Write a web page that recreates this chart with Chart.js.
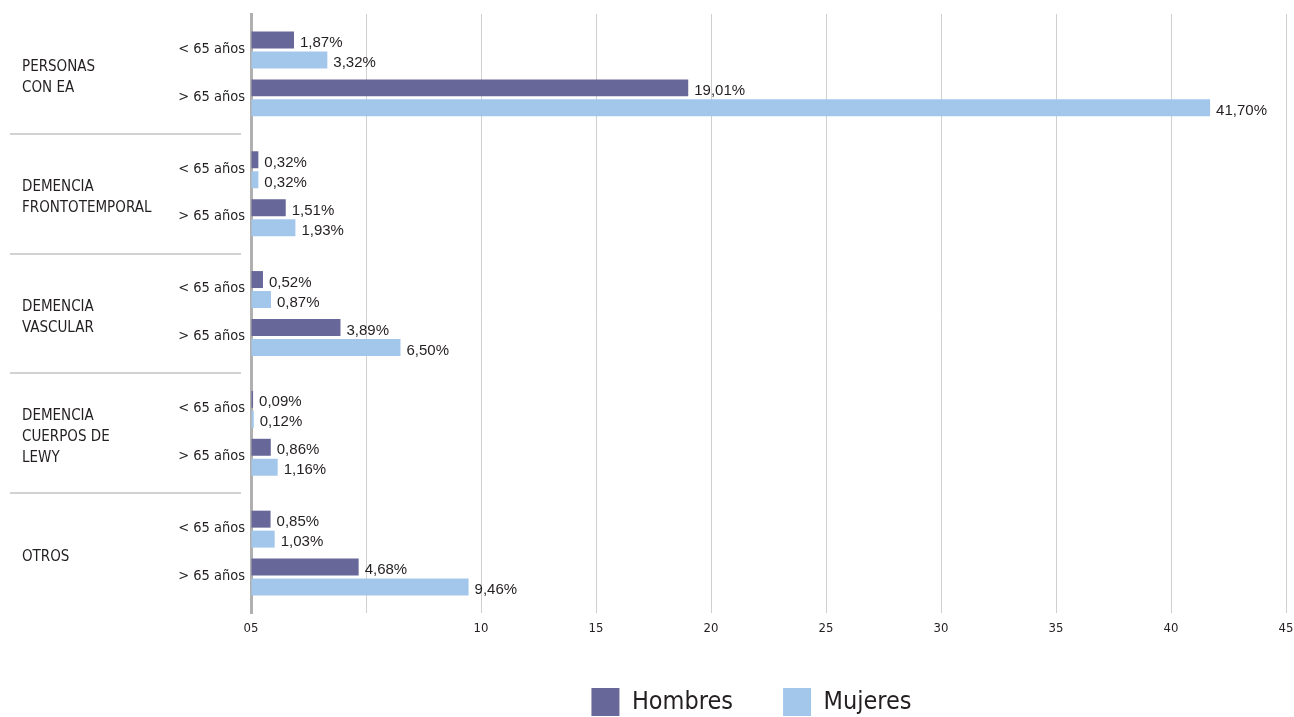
<!DOCTYPE html>
<html lang="es">
<head>
<meta charset="utf-8">
<title>Demencias por sexo y edad</title>
<script src="https://cdn.jsdelivr.net/npm/chart.js@4/dist/chart.umd.min.js"></script>
<style>
  html, body { margin: 0; padding: 0; background: #fff; }
  #wrap { width: 1294px; height: 717px; }
</style>
</head>
<body>
<div id="wrap"><canvas id="chart"></canvas></div>
<script>
const groups = [
  ['PERSONAS', 'CON EA'],
  ['DEMENCIA', 'FRONTOTEMPORAL'],
  ['DEMENCIA', 'VASCULAR'],
  ['DEMENCIA', 'CUERPOS DE', 'LEWY'],
  ['OTROS']
];
const ageBands = ['< 65 años', '> 65 años'];
const hombres = [1.87, 19.01, 0.32, 1.51, 0.52, 3.89, 0.09, 0.86, 0.85, 4.68];
const mujeres = [3.32, 41.70, 0.32, 1.93, 0.87, 6.50, 0.12, 1.16, 1.03, 9.46];
const xTickLabels = ['05', '', '10', '15', '20', '25', '30', '35', '40', '45'];

const colors = {
  hombres: '#67679a',
  mujeres: '#a3c7eb',
  grid: '#cfcfcf',
  rule: '#d2d2d2',
  axis: '#b0b0b0',
  text: '#231f20'
};
const COND = "'DejaVu Sans Condensed', 'DejaVu Sans', sans-serif";
const SANS = "'Liberation Sans', Arial, sans-serif";

// every group uses five rows of the category axis: gap, <65, gap, >65, gap
const SLOTS = 5;
const rowLabels = [];
const slotOf = [];
groups.forEach((g, gi) => {
  rowLabels.push('', ageBands[0], '', ageBands[1], '');
  slotOf.push(gi * SLOTS + 1, gi * SLOTS + 3);
});

function spread(values) {
  const out = rowLabels.map(() => null);
  values.forEach((v, i) => { out[slotOf[i]] = v; });
  return out;
}

function pct(v) {
  return v.toFixed(2).replace('.', ',') + '%';
}

// "1,87%" next to the end of each bar
const valueLabels = {
  id: 'valueLabels',
  afterDatasetsDraw(chart) {
    const { ctx } = chart;
    ctx.save();
    ctx.font = '15px ' + SANS;
    ctx.fillStyle = colors.text;
    ctx.textAlign = 'left';
    ctx.textBaseline = 'middle';
    chart.data.datasets.forEach((ds, di) => {
      chart.getDatasetMeta(di).data.forEach((bar, i) => {
        const v = ds.data[i];
        if (v == null) return;
        ctx.fillText(pct(v), bar.x + 6, bar.y + 3);
      });
    });
    ctx.restore();
  }
};

// left side: group names, age bands and the rules between groups
const rowHeaders = {
  id: 'rowHeaders',
  afterDraw(chart) {
    const { ctx } = chart;
    const y = chart.scales.y;
    const left = chart.chartArea.left;
    const lineH = 21;
    ctx.save();
    ctx.fillStyle = colors.text;
    ctx.textBaseline = 'middle';

    ctx.font = '14.5px ' + COND;
    ctx.textAlign = 'right';
    rowLabels.forEach((t, i) => {
      if (t) ctx.fillText(t, left - 6, y.getPixelForValue(i) - 1);
    });

    ctx.font = '15px ' + COND;
    ctx.textAlign = 'left';
    groups.forEach((lines, gi) => {
      const mid = (y.getPixelForValue(gi * SLOTS + 1) + y.getPixelForValue(gi * SLOTS + 3)) / 2 + 4;
      const top = mid - (lines.length - 1) * lineH / 2;
      lines.forEach((t, li) => ctx.fillText(t, 22, top + li * lineH));
      if (gi < groups.length - 1) {
        const sep = Math.round((y.getPixelForValue(gi * SLOTS + 4) + y.getPixelForValue(gi * SLOTS + 5)) / 2);
        ctx.strokeStyle = colors.rule;
        ctx.lineWidth = 2;
        ctx.beginPath();
        ctx.moveTo(10, sep);
        ctx.lineTo(241, sep);
        ctx.stroke();
      }
    });
    ctx.restore();
  }
};

new Chart(document.getElementById('chart'), {
  type: 'bar',
  data: {
    labels: rowLabels,
    datasets: [
      {
        label: 'Hombres',
        data: spread(hombres),
        backgroundColor: colors.hombres,
        borderWidth: 0,
        categoryPercentage: 1.6667,
        barPercentage: 0.85
      },
      {
        label: 'Mujeres',
        data: spread(mujeres),
        backgroundColor: colors.mujeres,
        borderWidth: 0,
        categoryPercentage: 1.6667,
        barPercentage: 0.85
      }
    ]
  },
  options: {
    indexAxis: 'y',
    responsive: true,
    maintainAspectRatio: false,
    animation: false,
    layout: { padding: { top: 14, left: 217, right: 8, bottom: -9 } },
    scales: {
      x: {
        min: 0,
        max: 45,
        ticks: {
          stepSize: 5,
          autoSkip: false,
          maxRotation: 0,
          padding: 0,
          color: colors.text,
          font: { family: COND, size: 13 },
          callback: v => xTickLabels[Math.round(v / 5)]
        },
        grid: { color: colors.grid, lineWidth: 1, drawTicks: true, tickLength: 8, tickColor: 'rgba(0,0,0,0)' },
        border: { display: false },
        afterFit: s => { s.height = 25; }
      },
      y: {
        ticks: { display: false },
        grid: { display: true, drawOnChartArea: false, drawTicks: false },
        border: { display: true, color: colors.axis, width: 3 },
        afterFit: s => { s.width = 34; }
      }
    },
    plugins: {
      legend: {
        position: 'bottom',
        labels: {
          boxWidth: 28,
          boxHeight: 28,
          padding: 50,
          color: colors.text,
          font: { family: COND, size: 25 }
        }
      },
      tooltip: { enabled: false }
    }
  },
  plugins: [valueLabels, rowHeaders]
});
</script>
</body>
</html>
